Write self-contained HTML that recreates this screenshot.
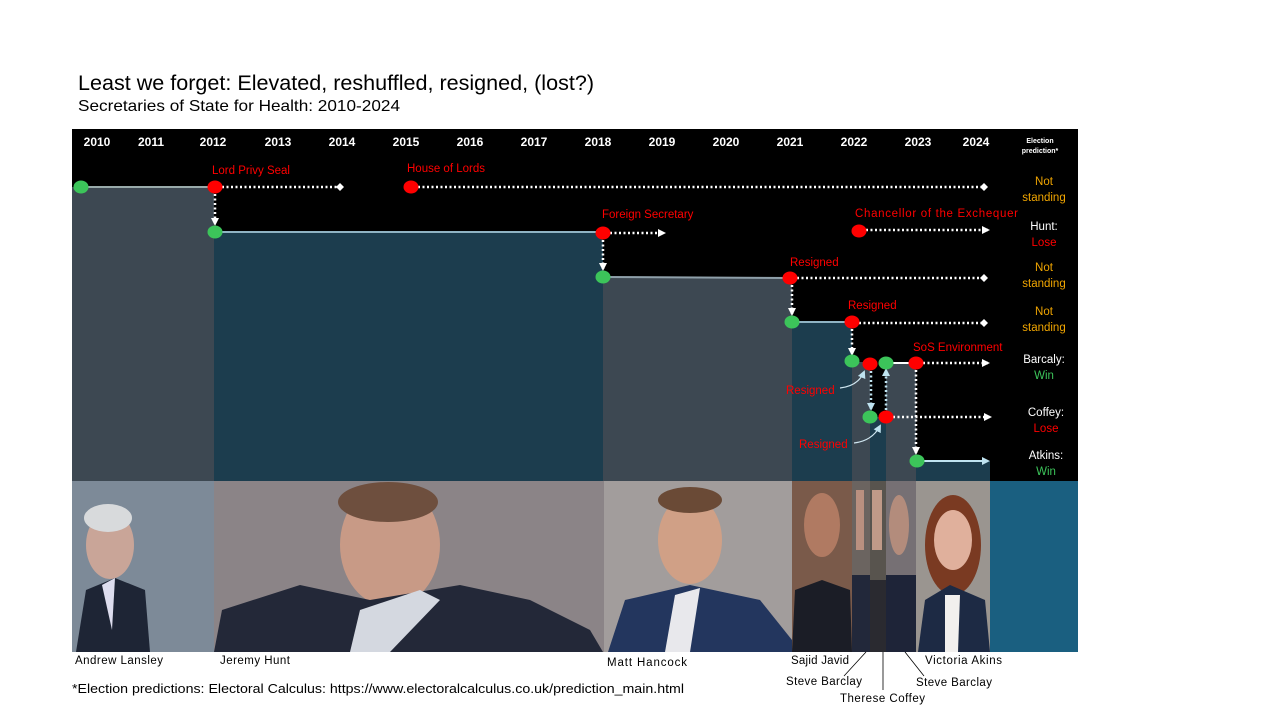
<!DOCTYPE html>
<html><head><meta charset="utf-8"><style>
body{margin:0;background:#fff;width:1280px;height:720px;overflow:hidden}
svg{display:block;font-family:"Liberation Sans",sans-serif}
</style></head><body>
<svg width="1280" height="720" viewBox="0 0 1280 720">
<defs>
<marker id="ar" markerWidth="8" markerHeight="8" refX="6" refY="4" orient="auto" markerUnits="userSpaceOnUse"><path d="M0,0 L8,4 L0,8z" fill="#fff"/></marker>
<marker id="arb" markerWidth="8" markerHeight="8" refX="6" refY="4" orient="auto" markerUnits="userSpaceOnUse"><path d="M0,0 L8,4 L0,8z" fill="#bfe3f0"/></marker>
<marker id="dm" markerWidth="8" markerHeight="8" refX="4" refY="4" orient="auto" markerUnits="userSpaceOnUse"><path d="M0,4 L4,0 L8,4 L4,8z" fill="#fff"/></marker>
</defs>
<text x="78" y="90" font-size="21" fill="#000" textLength="516" lengthAdjust="spacingAndGlyphs">Least we forget: Elevated, reshuffled, resigned, (lost?)</text>
<text x="78" y="111" font-size="16" fill="#000" textLength="322" lengthAdjust="spacingAndGlyphs">Secretaries of State for Health: 2010-2024</text>
<rect x="72" y="129" width="1006" height="352" fill="#000"/>
<g font-size="12" font-weight="bold" fill="#fff" text-anchor="middle">
<text x="97" y="146">2010</text><text x="151" y="146">2011</text><text x="213" y="146">2012</text><text x="278" y="146">2013</text><text x="342" y="146">2014</text><text x="406" y="146">2015</text><text x="470" y="146">2016</text><text x="534" y="146">2017</text><text x="598" y="146">2018</text><text x="662" y="146">2019</text><text x="726" y="146">2020</text><text x="790" y="146">2021</text><text x="854" y="146">2022</text><text x="918" y="146">2023</text><text x="976" y="146">2024</text>
<text x="1040" y="143" font-size="7">Election</text><text x="1040" y="153" font-size="7">prediction*</text>
</g>
<rect x="72" y="187" width="142" height="294" fill="#3d4852"/>
<rect x="214" y="232" width="389" height="249" fill="#1c3d4e"/>
<rect x="603" y="277" width="189" height="204" fill="#3d4852"/>
<rect x="792" y="322" width="60" height="159" fill="#1c3d4e"/>
<rect x="852" y="362" width="18" height="119" fill="#3d4852"/>
<rect x="870" y="417" width="16" height="64" fill="#1c3d4e"/>
<rect x="886" y="362" width="30" height="119" fill="#3d4852"/>
<rect x="916" y="461" width="74" height="20" fill="#1c3d4e"/>
<g stroke-width="2" fill="none">
<line x1="81" y1="187" x2="215" y2="187" stroke="#9aa"/>
<line x1="215" y1="232" x2="603" y2="232" stroke="#8fb4c4"/>
<line x1="603" y1="277" x2="790" y2="278" stroke="#8fa0aa"/>
<line x1="792" y1="322" x2="852" y2="322" stroke="#8fb4c4"/>
<line x1="886" y1="363" x2="916" y2="363" stroke="#fff"/>
<line x1="917" y1="461" x2="988" y2="461" stroke="#bfe3f0" marker-end="url(#arb)"/>
</g>
<g stroke="#fff" stroke-width="2.5" stroke-dasharray="2 2.5" fill="none">
<line x1="222" y1="187" x2="340" y2="187" marker-end="url(#dm)"/>
<line x1="418" y1="187" x2="984" y2="187" marker-end="url(#dm)"/>
<line x1="215" y1="194" x2="215" y2="224" marker-end="url(#ar)"/>
<line x1="610" y1="233" x2="664" y2="233" marker-end="url(#ar)"/>
<line x1="866" y1="230" x2="988" y2="230" marker-end="url(#ar)"/>
<line x1="603" y1="240" x2="603" y2="269" marker-end="url(#ar)"/>
<line x1="797" y1="278" x2="984" y2="278" marker-end="url(#dm)"/>
<line x1="792" y1="285" x2="792" y2="314" marker-end="url(#ar)"/>
<line x1="859" y1="323" x2="984" y2="323" marker-end="url(#dm)"/>
<line x1="852" y1="329" x2="852" y2="354" marker-end="url(#ar)"/>
<line x1="923" y1="363" x2="988" y2="363" marker-end="url(#ar)"/>
<line x1="893" y1="417" x2="990" y2="417" marker-end="url(#ar)"/>
<line x1="916" y1="370" x2="916" y2="453" marker-end="url(#ar)"/>
</g>
<g stroke="#bfe3f0" stroke-width="2.5" stroke-dasharray="2 2.5" fill="none">
<line x1="871" y1="371" x2="871" y2="409" marker-end="url(#arb)"/>
<line x1="886" y1="410" x2="886" y2="370" marker-end="url(#arb)"/>
</g>
<g stroke="#cfe6f0" stroke-width="1.2" fill="none">
<path d="M840,388 Q858,386 864,372" marker-end="url(#arb)"/>
<path d="M854,443 Q872,441 880,426" marker-end="url(#arb)"/>
</g>
<g fill="#3cc45a">
<ellipse cx="81" cy="187" rx="7.5" ry="6.5"/><ellipse cx="215" cy="232" rx="7.5" ry="6.5"/><ellipse cx="603" cy="277" rx="7.5" ry="6.5"/><ellipse cx="792" cy="322" rx="7.5" ry="6.5"/><ellipse cx="852" cy="361" rx="7.5" ry="6.5"/><ellipse cx="886" cy="363" rx="7.5" ry="6.5"/><ellipse cx="870" cy="417" rx="7.5" ry="6.5"/><ellipse cx="917" cy="461" rx="7.5" ry="6.5"/>
</g>
<g fill="#f00">
<ellipse cx="215" cy="187" rx="7.5" ry="6.5"/><ellipse cx="411" cy="187" rx="7.5" ry="6.5"/><ellipse cx="603" cy="233" rx="7.5" ry="6.5"/><ellipse cx="859" cy="231" rx="7.5" ry="6.5"/><ellipse cx="790" cy="278" rx="7.5" ry="6.5"/><ellipse cx="852" cy="322" rx="7.5" ry="6.5"/><ellipse cx="870" cy="364" rx="7.5" ry="6.5"/><ellipse cx="916" cy="363" rx="7.5" ry="6.5"/><ellipse cx="886" cy="417" rx="7.5" ry="6.5"/>
</g>
<g fill="#f00" font-size="11.5">
<text x="212" y="174">Lord  Privy Seal</text><text x="407" y="172">House of Lords</text><text x="602" y="218">Foreign Secretary</text><text x="855" y="217" textLength="163">Chancellor  of the Exchequer</text><text x="790" y="266">Resigned</text><text x="848" y="309">Resigned</text><text x="913" y="351">SoS Environment</text><text x="786" y="394">Resigned</text><text x="799" y="448">Resigned</text>
</g>
<g font-size="11.5" text-anchor="middle">
<text x="1044" y="185" fill="#f0a500">Not</text><text x="1044" y="201" fill="#f0a500">standing</text>
<text x="1044" y="230" fill="#fff">Hunt:</text><text x="1044" y="246" fill="#f00">Lose</text>
<text x="1044" y="271" fill="#f0a500">Not</text><text x="1044" y="287" fill="#f0a500">standing</text>
<text x="1044" y="315" fill="#f0a500">Not</text><text x="1044" y="331" fill="#f0a500">standing</text>
<text x="1044" y="363" fill="#fff">Barcaly:</text><text x="1044" y="379" fill="#3cc45a">Win</text>
<text x="1046" y="416" fill="#fff">Coffey:</text><text x="1046" y="432" fill="#f00">Lose</text>
<text x="1046" y="459" fill="#fff">Atkins:</text><text x="1046" y="475" fill="#3cc45a">Win</text>
</g>
<!-- photos -->
<rect x="990" y="481" width="88" height="171" fill="#1a5f80"/>
<rect x="72" y="481" width="142" height="171" fill="#7d8a98"/>
<ellipse cx="110" cy="545" rx="24" ry="34" fill="#c9a598"/><ellipse cx="108" cy="518" rx="24" ry="14" fill="#d8dadc"/>
<path d="M76,652 L86,590 L115,578 L145,590 L150,652z" fill="#1e2535"/><path d="M102,585 L115,578 L112,630z" fill="#dde"/>
<rect x="214" y="481" width="390" height="171" fill="#8b8487"/>
<ellipse cx="390" cy="545" rx="50" ry="62" fill="#c89a86"/><ellipse cx="388" cy="502" rx="50" ry="20" fill="#6e4f3e"/>
<path d="M214,652 L222,610 L300,585 L370,600 L460,585 L530,600 L590,630 L603,652z" fill="#232838"/><path d="M360,610 L420,590 L440,600 L390,652 L350,652z" fill="#d4d8e0"/>
<rect x="604" y="481" width="188" height="171" fill="#a29d9c"/>
<ellipse cx="690" cy="540" rx="32" ry="44" fill="#d0a086"/><ellipse cx="690" cy="500" rx="32" ry="13" fill="#6a4a36"/>
<path d="M608,652 L625,600 L690,585 L760,600 L792,640 L792,652z" fill="#23365e"/><path d="M675,595 L700,588 L690,652 L665,652z" fill="#e8e8ec"/>
<rect x="792" y="481" width="60" height="171" fill="#7a5a4a"/>
<ellipse cx="822" cy="525" rx="18" ry="32" fill="#b07a62"/><path d="M792,652 L795,590 L822,580 L850,590 L852,652z" fill="#1b1d26"/>
<rect x="852" y="481" width="18" height="171" fill="#6b6460"/><rect x="856" y="490" width="8" height="60" fill="#b99080"/><rect x="852" y="575" width="18" height="77" fill="#22283a"/>
<rect x="870" y="481" width="16" height="171" fill="#58544e"/><rect x="872" y="490" width="10" height="60" fill="#c09a88"/><rect x="870" y="580" width="16" height="72" fill="#2a2a30"/>
<rect x="886" y="481" width="30" height="171" fill="#767074"/><ellipse cx="899" cy="525" rx="10" ry="30" fill="#b38c7c"/><rect x="886" y="575" width="30" height="77" fill="#1e2438"/>
<rect x="916" y="481" width="74" height="171" fill="#9a9590"/>
<ellipse cx="953" cy="545" rx="28" ry="50" fill="#7a3a22"/><ellipse cx="953" cy="540" rx="19" ry="30" fill="#e0b09c"/>
<path d="M918,652 L925,600 L950,585 L985,600 L990,652z" fill="#1d2a44"/><path d="M945,595 L960,595 L958,652 L945,652z" fill="#f2f0ee"/>
<g font-size="11.5" fill="#000">
<text x="75" y="664" textLength="88">Andrew Lansley</text><text x="220" y="664" textLength="70">Jeremy Hunt</text><text x="607" y="666" textLength="80">Matt Hancock</text><text x="791" y="664" textLength="58">Sajid Javid</text><text x="786" y="685" textLength="76">Steve Barclay</text><text x="840" y="702" textLength="85">Therese Coffey</text><text x="916" y="686" textLength="76">Steve Barclay</text><text x="925" y="664" textLength="77">Victoria Akins</text>
<text x="72" y="693" font-size="12.5" textLength="612" lengthAdjust="spacingAndGlyphs">*Election predictions: Electoral Calculus: https://www.electoralcalculus.co.uk/prediction_main.html</text>
</g>
<g stroke="#000" stroke-width="0.8">
<line x1="844" y1="676" x2="866" y2="652"/><line x1="883" y1="652" x2="883" y2="690"/><line x1="905" y1="652" x2="924" y2="676"/>
</g>
</svg>
</body></html>
